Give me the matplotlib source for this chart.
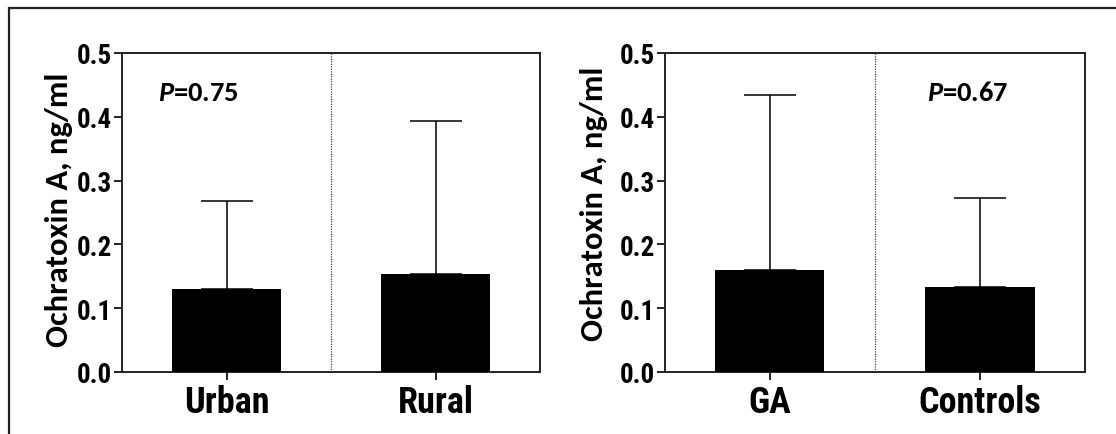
import matplotlib
matplotlib.use("Agg")
import matplotlib.pyplot as plt
from matplotlib.patches import Rectangle
from matplotlib.font_manager import fontManager

# Ochratoxin A concentrations (mean with upper SD) by group
left_groups = ["Urban", "Rural"]
left_means = [0.130, 0.153]
left_sd = [0.138, 0.241]
left_p = "0.75"

right_groups = ["GA", "Controls"]
right_means = [0.160, 0.133]
right_sd = [0.274, 0.139]
right_p = "0.67"

y_ticks = [0.0, 0.1, 0.2, 0.3, 0.4, 0.5]
y_label = "Ochratoxin A, ng/ml"

installed = {f.name for f in fontManager.ttflist}


def pick(*cands):
    found = [c for c in cands if c in installed]
    return found + ["DejaVu Sans"]


narrow = pick("Liberation Sans Narrow", "Arial Narrow", "Roboto Condensed",
              "Archivo Narrow", "PT Sans Narrow", "IBM Plex Sans Condensed",
              "Liberation Sans")
label_font = pick("Carlito", "Calibri", "Lato", "Open Sans")

plt.rcParams["mathtext.fontset"] = "custom"
plt.rcParams["mathtext.it"] = label_font[0] + ":italic:bold"
plt.rcParams["mathtext.rm"] = label_font[0] + ":bold"

W, H = 1116, 435
fig = plt.figure(figsize=(W / 100, H / 100), dpi=100)

# outer frame, open at the right and bottom edges
fig.patches.append(Rectangle((9 / W, -0.1), 1.2, (435 - 8.5) / H + 0.1,
                             transform=fig.transFigure, fill=False,
                             edgecolor="#222222", linewidth=1.6))


def panel(x0, x1, groups, means, sd, ptxt, px, label_x, label_y):
    ax = fig.add_axes([x0 / W, (H - 373) / H, (x1 - x0) / W, 319 / H])
    xs = list(range(len(groups)))
    ax.bar(xs, means, width=0.52, color="black", zorder=3)
    ax.errorbar(xs, means, yerr=[[0] * len(sd), sd], fmt="none",
                ecolor="black", elinewidth=1.1, capsize=19, capthick=1.1,
                zorder=2)
    ax.axvline(0.5, color="#444444", linestyle=(0, (1, 1)), linewidth=0.9,
               zorder=1)
    ax.set_xlim(-0.5, 1.5)
    ax.set_ylim(0, 0.5)
    ax.set_yticks(y_ticks)
    ax.set_yticklabels([f"{v:.1f}" for v in y_ticks], family=narrow,
                       fontweight="bold", fontsize=19.5)
    ax.set_xticks(xs)
    ax.set_xticklabels(groups, family=narrow, fontweight="bold", fontsize=26)
    for s in ax.spines.values():
        s.set_linewidth(1.4)
        s.set_color("#222222")
    ax.tick_params(axis="y", length=6, width=1.4, pad=1, color="#222222")
    ax.tick_params(axis="x", length=6, width=1.4, pad=3, color="#222222")
    ax.set_ylabel(y_label, family=label_font, fontweight="bold",
                  fontsize=23.5)
    ax.yaxis.set_label_coords((label_x - x0) / (x1 - x0),
                              (373 - label_y) / 319)
    fig.text(px / W, 1 - 93 / H, "$P$=" + ptxt, family=label_font,
             fontweight="bold", fontsize=20.5, va="center", ha="left")
    return ax


panel(122, 540, left_groups, left_means, left_sd, left_p, 158, 73, 210)
panel(664.5, 1085, right_groups, right_means, right_sd, right_p, 927,
      607.5, 204)

fig.savefig("out.png", dpi=100)
